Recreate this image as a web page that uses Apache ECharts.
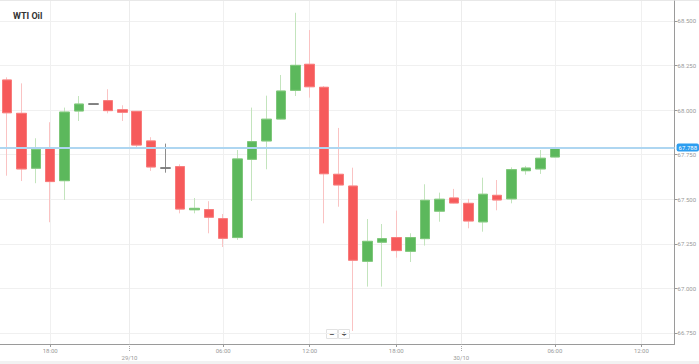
<!DOCTYPE html>
<html>
<head>
<meta charset="utf-8">
<script src="https://cdn.jsdelivr.net/npm/echarts@6/dist/echarts.min.js"></script>
<style>
html,body{margin:0;padding:0;background:#fff;}
#chart{width:699px;height:364px;}
</style>
</head>
<body>
<div id="chart"></div>
<script>
// ---- data (one candle per hour, index-based x) ----
const opens  = [68.169,67.982,67.674,67.787,67.604,67.995,68.034,68.053,68.002,67.993,67.827,67.675,67.683,67.441,67.442,67.391,67.285,67.724,67.827,67.950,68.111,68.257,68.128,67.640,67.574,67.152,67.259,67.285,67.208,67.279,67.433,67.507,67.477,67.373,67.522,67.502,67.660,67.670,67.737];
const closes = [67.985,67.670,67.780,67.599,67.989,68.034,68.034,67.997,67.988,67.804,67.681,67.675,67.445,67.449,67.399,67.281,67.726,67.823,67.949,68.107,68.251,68.131,67.643,67.580,67.158,67.264,67.279,67.212,67.285,67.494,67.500,67.479,67.378,67.528,67.496,67.666,67.675,67.730,67.788];
const lows   = [67.632,67.602,67.590,67.371,67.496,67.939,68.034,67.982,67.939,67.791,67.659,67.649,67.421,67.421,67.309,67.232,67.272,67.490,67.668,67.948,68.079,68.070,67.365,67.458,66.761,67.010,67.010,67.172,67.148,67.240,67.374,67.477,67.337,67.318,67.438,67.477,67.638,67.642,67.735];
const highs  = [68.184,68.150,67.842,67.932,68.014,68.079,68.034,68.117,68.027,67.995,67.848,67.812,67.696,67.507,67.489,67.417,67.776,68.014,68.081,68.197,68.546,68.449,68.135,67.900,67.677,67.389,67.361,67.436,67.309,67.584,67.537,67.558,67.502,67.621,67.608,67.679,67.687,67.776,67.790];
const lastPrice = 67.788;

const timeTickPos    = [3, 15, 21, 27, 38, 44];
const timeTickLabels = ['18:00','06:00','12:00','18:00','06:00','12:00'];
const dayTickPos     = [8.5, 31.5];
const dayTickLabels  = ['29/10','30/10'];
const priceTicks     = [66.75, 67.0, 67.25, 67.5, 67.75, 68.0, 68.25, 68.5];

// ---- build ----
const wickData = opens.map((o,i)=>[i, o, closes[i], lows[i], highs[i]]);
const bodyData = opens.map((o,i)=>[i, o, closes[i], Math.min(o,closes[i]), Math.max(o,closes[i])]);
const labelOf = (vals, labels) => v => { const k = vals.findIndex(p => Math.abs(p - v) < 1e-6); return k >= 0 ? labels[k] : ''; };

const chart = echarts.init(document.getElementById('chart'), null, {renderer:'svg'});
const axisGray = '#9a9a9a';
const gridCol = '#f0f0f0';
chart.setOption({
  animation:false,
  backgroundColor:'#fff',
  title:{text:'WTI Oil', left:8, top:6, textStyle:{fontSize:9, fontWeight:'bold', color:'#333', fontFamily:'Roboto'}},
  grid:{left:0, right:22, top:1, bottom:20, show:false},
  xAxis:[{
    type:'value', min:-0.48, max:46.3, position:'bottom',
    axisLine:{show:true, onZero:false, lineStyle:{color:axisGray}},
    axisTick:{show:true, length:3, customValues:timeTickPos, lineStyle:{color:axisGray}},
    axisLabel:{customValues:timeTickPos, formatter:labelOf(timeTickPos,timeTickLabels), fontSize:6, color:'#999', margin:3, fontFamily:'Roboto'},
    splitLine:{show:true, lineStyle:{color:gridCol}}
  },{
    type:'value', min:-0.48, max:46.3, position:'bottom',
    axisLine:{show:false, onZero:false},
    axisTick:{show:true, length:7, customValues:dayTickPos, lineStyle:{color:'#aaa', type:[1,1]}},
    axisLabel:{customValues:dayTickPos, formatter:labelOf(dayTickPos,dayTickLabels), fontSize:6, color:'#999', margin:10, fontFamily:'Roboto'},
    splitLine:{show:true, lineStyle:{color:'#ececec'}}
  }],
  yAxis:{
    type:'value', position:'right', min:66.688, max:68.612,
    axisLine:{show:true, onZero:false, lineStyle:{color:axisGray}},
    axisTick:{show:true, length:3, customValues:priceTicks, lineStyle:{color:axisGray}},
    axisLabel:{customValues:priceTicks, formatter:v=>v.toFixed(3), fontSize:6, color:'#999', margin:3, fontFamily:'Roboto'},
    splitLine:{show:true, lineStyle:{color:gridCol}}
  },
  series:[{
    type:'candlestick', xAxisIndex:0, data:wickData, encode:{x:0, y:[1,2,3,4]}, barWidth:10,
    itemStyle:{color:'#c3e4bd', color0:'#fac3c3', borderColor:'#c3e4bd', borderColor0:'#fac3c3', borderColorDoji:'#8c8c8c', borderWidth:1}
  },{
    type:'candlestick', xAxisIndex:0, data:bodyData, encode:{x:0, y:[1,2,3,4]}, barWidth:10,
    itemStyle:{color:'#5cb85c', color0:'#f65a5b', borderColor:'#7ec77a', borderColor0:'#f87b7b', borderColorDoji:'#777', borderWidth:1},
    markLine:{
      silent:true, symbol:'none', animation:false,
      data:[{yAxis:lastPrice}],
      lineStyle:{color:'#aed6f1', width:2, type:'solid'},
      label:{show:true, position:'end', distance:2, formatter:lastPrice.toFixed(3), fontSize:6, color:'#fff', backgroundColor:'#2d9ef0', padding:[1,2,1,2], borderRadius:2, fontFamily:'Roboto'}
    }
  }],
  graphic:[
    {type:'rect', left:0, top:0, shape:{width:699, height:1}, style:{fill:'#e8e8e8'}, silent:true},
    {type:'rect', left:0, top:361, shape:{width:699, height:3}, style:{fill:'#f2f2f2'}, silent:true},
    {type:'group', left:326, top:329, children:[
      {type:'rect', shape:{x:0,y:0,width:11,height:9}, style:{fill:'#fff', stroke:'#e2e2e2', lineWidth:1}},
      {type:'rect', shape:{x:12,y:0,width:11,height:9}, style:{fill:'#fff', stroke:'#e2e2e2', lineWidth:1}},
      {type:'text', x:5.5, y:4.5, style:{text:'−', fontSize:8, fontWeight:'bold', fill:'#555', align:'center', verticalAlign:'middle'}},
      {type:'text', x:17.5, y:4.5, style:{text:'+', fontSize:8, fontWeight:'bold', fill:'#555', align:'center', verticalAlign:'middle'}}
    ]}
  ]
});
</script>
</body>
</html>
